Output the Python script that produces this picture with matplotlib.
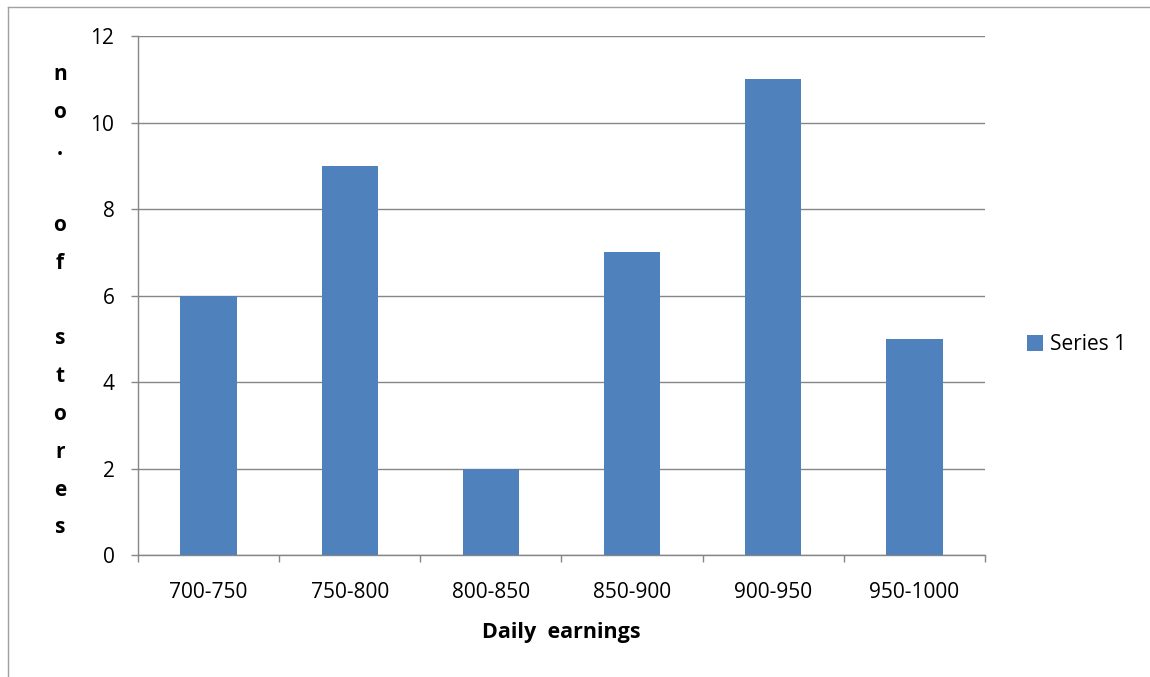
from matplotlib import pyplot as plt
import numpy as np

categories = ['700-750', '750-800', '800-850', '850-900', '900-950', '950-1000']
stores = [6, 9, 2, 7, 11, 5]
yticks = [0, 2, 4, 6, 8, 10, 12]

plt.rcParams['font.family'] = ['Open Sans', 'DejaVu Sans']
grey = '#868686'
fs = 15

fig = plt.figure(figsize=(11.5, 6.77), dpi=100)
ax = fig.add_axes([0.12, 0.18, 0.7365, 0.7668])

x = np.arange(len(categories))
ax.bar(x, stores, width=0.4, color='#4F81BD', label='Series 1', zorder=3)

ax.set_xlim(-0.5, len(categories) - 0.5)
ax.set_ylim(0, 12)
ax.set_yticks(yticks)
ax.yaxis.grid(True, color=grey, linewidth=1, zorder=0)

ax.set_xticks(x)
ax.set_xticklabels(categories, fontsize=fs)
ax.set_xticks(np.arange(len(categories) + 1) - 0.5, minor=True)
ax.tick_params(axis='x', which='major', length=0, pad=19)
ax.tick_params(axis='x', which='minor', length=5, color=grey, width=1)
ax.tick_params(axis='y', length=5, color=grey, width=1, labelsize=fs, pad=12)

for s in ['top', 'right']:
    ax.spines[s].set_visible(False)
for s in ['left', 'bottom']:
    ax.spines[s].set_color(grey)
    ax.spines[s].set_linewidth(1)

ax.set_xlabel('Daily  earnings', fontsize=15.5, fontweight='bold', labelpad=14)

ylab = 'n\no\n.\n\no\nf\n\ns\nt\no\nr\ne\ns'
fig.text(60 / 1150, 1 - 301 / 677, ylab, fontsize=fs, fontweight='bold',
         ha='center', va='center', linespacing=2.05)

ax.legend(loc='center left', bbox_to_anchor=(1.028, 0.405), frameon=False,
          fontsize=fs, handlelength=0.75, handleheight=0.75, handletextpad=0.35)

# chart area border (partly cut off)
fig.add_artist(plt.Line2D([8 / 1150, 1], [1 - 7 / 677, 1 - 7 / 677], color='#a0a0a0', linewidth=1))
fig.add_artist(plt.Line2D([8 / 1150, 8 / 1150], [0, 1 - 7 / 677], color='#a0a0a0', linewidth=1))

fig.savefig('out.png', dpi=100)
